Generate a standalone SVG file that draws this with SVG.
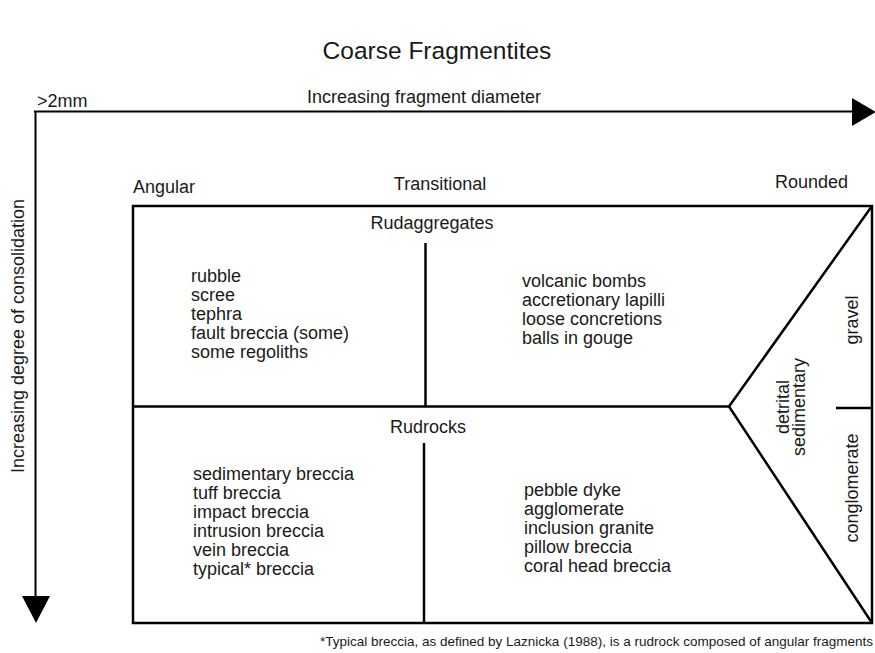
<svg xmlns="http://www.w3.org/2000/svg" width="875" height="653" viewBox="0 0 875 653">
<style>
text{font-family:"Liberation Sans",Arial,sans-serif;fill:#1a1a1a;font-size:18px}
.t{font-size:24.5px}
.fn{font-size:13.5px}
.m{text-anchor:middle}
.ln{stroke:#000;stroke-width:2.5;fill:none}
.ax{stroke:#000;stroke-width:2;fill:none}
</style>
<rect width="875" height="653" fill="#fff"/>
<text class="t m" x="437" y="59">Coarse Fragmentites</text>
<g id="axes">
<line class="ax" x1="34" y1="111.5" x2="853" y2="111.5"/>
<polygon points="852,98 852,126 876,112" fill="#000"/>
<line class="ax" x1="35.5" y1="111" x2="35.5" y2="597"/>
<polygon points="22,596 50,596 36,623" fill="#000"/>
<text x="37" y="107">&gt;2mm</text>
<text class="m" x="424" y="103">Increasing fragment diameter</text>
<text class="m" transform="translate(24,336) rotate(-90)">Increasing degree of consolidation</text>
</g>
<g id="headers">
<text x="133" y="193">Angular</text>
<text class="m" x="440" y="190">Transitional</text>
<text x="775" y="188">Rounded</text>
</g>
<g id="connectors">
<rect class="ln" x="133" y="206" width="739" height="417"/>
<line class="ln" x1="133" y1="406.5" x2="729" y2="406.5"/>
<line class="ln" x1="425.5" y1="243" x2="425.5" y2="406"/>
<line class="ln" x1="424" y1="443" x2="424" y2="623"/>
<polyline class="ln" points="872,206 729,406.5 872,623"/>
<line class="ln" x1="836" y1="408" x2="872" y2="408"/>
</g>
<g id="rudaggregates">
<text class="m" x="432" y="229">Rudaggregates</text>
<text x="191" y="282">rubble</text>
<text x="191" y="301">scree</text>
<text x="191" y="320">tephra</text>
<text x="191" y="339">fault breccia (some)</text>
<text x="191" y="358">some regoliths</text>
<text x="522" y="287">volcanic bombs</text>
<text x="522" y="306">accretionary lapilli</text>
<text x="522" y="325">loose concretions</text>
<text x="522" y="344">balls in gouge</text>
</g>
<g id="rudrocks">
<text class="m" x="428" y="433">Rudrocks</text>
<text x="193" y="480">sedimentary breccia</text>
<text x="193" y="499">tuff breccia</text>
<text x="193" y="518">impact breccia</text>
<text x="193" y="537">intrusion breccia</text>
<text x="193" y="556">vein breccia</text>
<text x="193" y="575">typical* breccia</text>
<text x="524" y="496">pebble dyke</text>
<text x="524" y="515">agglomerate</text>
<text x="524" y="534">inclusion granite</text>
<text x="524" y="553">pillow breccia</text>
<text x="524" y="572">coral head breccia</text>
</g>
<g id="detrital">
<text class="m" transform="translate(789,407) rotate(-90)">detrital</text>
<text class="m" transform="translate(805,407) rotate(-90)">sedimentary</text>
<text class="m" transform="translate(858,320) rotate(-90)">gravel</text>
<text class="m" transform="translate(858,488) rotate(-90)">conglomerate</text>
</g>
<text class="fn" x="320" y="646">*Typical breccia, as defined by Laznicka (1988), is a rudrock composed of angular fragments</text>
</svg>
